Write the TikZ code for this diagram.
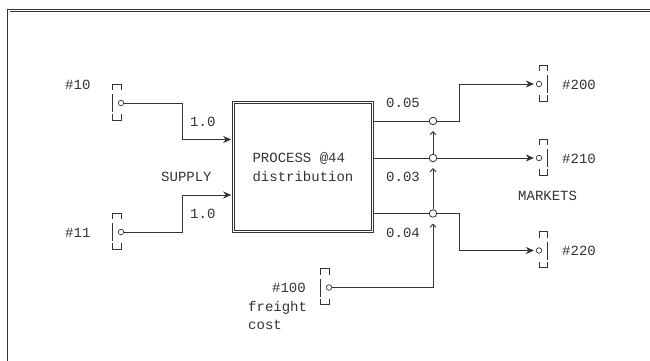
\documentclass[tikz,border=0pt]{standalone}
\usepackage{fontspec}
\setmonofont{Liberation Mono}
\usetikzlibrary{arrows.meta, positioning, calc}
\definecolor{ink}{HTML}{333333}

\tikzset{
  wire/.style={draw=ink, line width=0.8pt},
  feed/.style={wire, -{Stealth[length=8pt, width=7pt, inset=2.5pt]}, shorten >=2pt},
  lift/.style={wire, -{Straight Barb[length=3pt, width=6pt]}, shorten >=6pt},
  portdot/.style={circle, draw=ink, line width=0.7pt, minimum size=5.5pt, inner sep=0pt},
  joint/.style={circle, draw=ink, line width=0.8pt, minimum size=7.5pt, inner sep=0pt},
  procbox/.style={draw=ink, double, double distance=1.8pt, line width=0.6pt,
    minimum width=139pt, minimum height=129pt, align=left, text=ink,
    font=\ttfamily\fontsize{14}{18.5}\selectfont},
  lbl/.style={inner sep=0pt, anchor=base west, text=ink, font=\ttfamily\fontsize{14}{18.5}\selectfont},
  frame/.style={draw=ink, double, double distance=1.6pt, line width=0.6pt},
  pics/port/.style={code={
    \node[portdot] (-o) at (0,0) {};
    \draw[wire] (#1*8.45,-13) -- (#1*8.45,-19) -- (0,-19) -- (0,-13);
    \draw[wire] (#1*8.45,-9) -- (#1*8.45,9);
    \draw[wire] (#1*8.45,11) -- (#1*8.45,17) -- (0,17) -- (0,11);
  }}
}

\begin{document}
\begin{tikzpicture}[x=1pt, y=-1pt]
  \useasboundingbox (0,0) rectangle (650,360);
  \draw[frame] (8.7,362) -- (8.7,10.5) -- (652,10.5);

  % process box
  \node[procbox] (proc) at (303,167) {PROCESS @44\\distribution};

  % supply side
  \pic (p10) at (121,103) {port=-1};
  \pic (p11) at (121,232) {port=-1};
  \node[lbl] (l10) at (65,89) {\#10};
  \node[lbl] (l11) at (65,237) {\#11};
  \node[lbl] (c10) at (190,126) {1.0};
  \node[lbl] (c11) at (190,218.5) {1.0};
  \node[lbl] (supply) at (161,181.5) {SUPPLY};
  \coordinate (k10) at (182,139.5);
  \coordinate (k11) at (182,195);
  \draw[feed] (p10-o) -| (k10) -- (k10 -| proc.west);
  \draw[feed] (p11-o) -| (k11) -- (k11 -| proc.west);

  % junctions on the outputs
  \node[joint] (j1) at (433,121) {};
  \node[joint] (j2) at (433,158) {};
  \node[joint] (j3) at (433,213.5) {};
  \draw[wire] (j1 -| proc.east) -- (j1);
  \draw[wire] (j2 -| proc.east) -- (j2);
  \draw[wire] (j3 -| proc.east) -- (j3);
  \node[lbl] (c200) at (386,107.5) {0.05};
  \node[lbl] (c210) at (386,181.5) {0.03};
  \node[lbl] (c220) at (386,237) {0.04};

  % market side
  \pic (p200) at (539,84) {port=1};
  \pic (p210) at (539,158) {port=1};
  \pic (p220) at (539,250.5) {port=1};
  \node[lbl] (l200) at (562,89) {\#200};
  \node[lbl] (l210) at (562,163) {\#210};
  \node[lbl] (l220) at (562,255.5) {\#220};
  \node[lbl] (markets) at (518,200) {MARKETS};
  \coordinate (k200) at (459,84);
  \coordinate (k220) at (459,250.5);
  \draw[feed] (j1) -| (k200) -- (p200-o);
  \draw[feed] (j2) -- (p210-o);
  \draw[feed] (j3) -| (k220) -- (p220-o);

  % freight cost
  \pic (p100) at (329,287.5) {port=-1};
  \node[lbl, anchor=base east] (l100) at (306,292.5) {\#100};
  \node[lbl] (freight) at (248,311) {freight};
  \node[lbl] (cost) at (248,329.5) {cost};
  \draw[lift] (p100-o) -| (j3);
  \draw[lift] (j3) -- (j2);
  \draw[lift] (j2) -- (j1);
\end{tikzpicture}
\end{document}
